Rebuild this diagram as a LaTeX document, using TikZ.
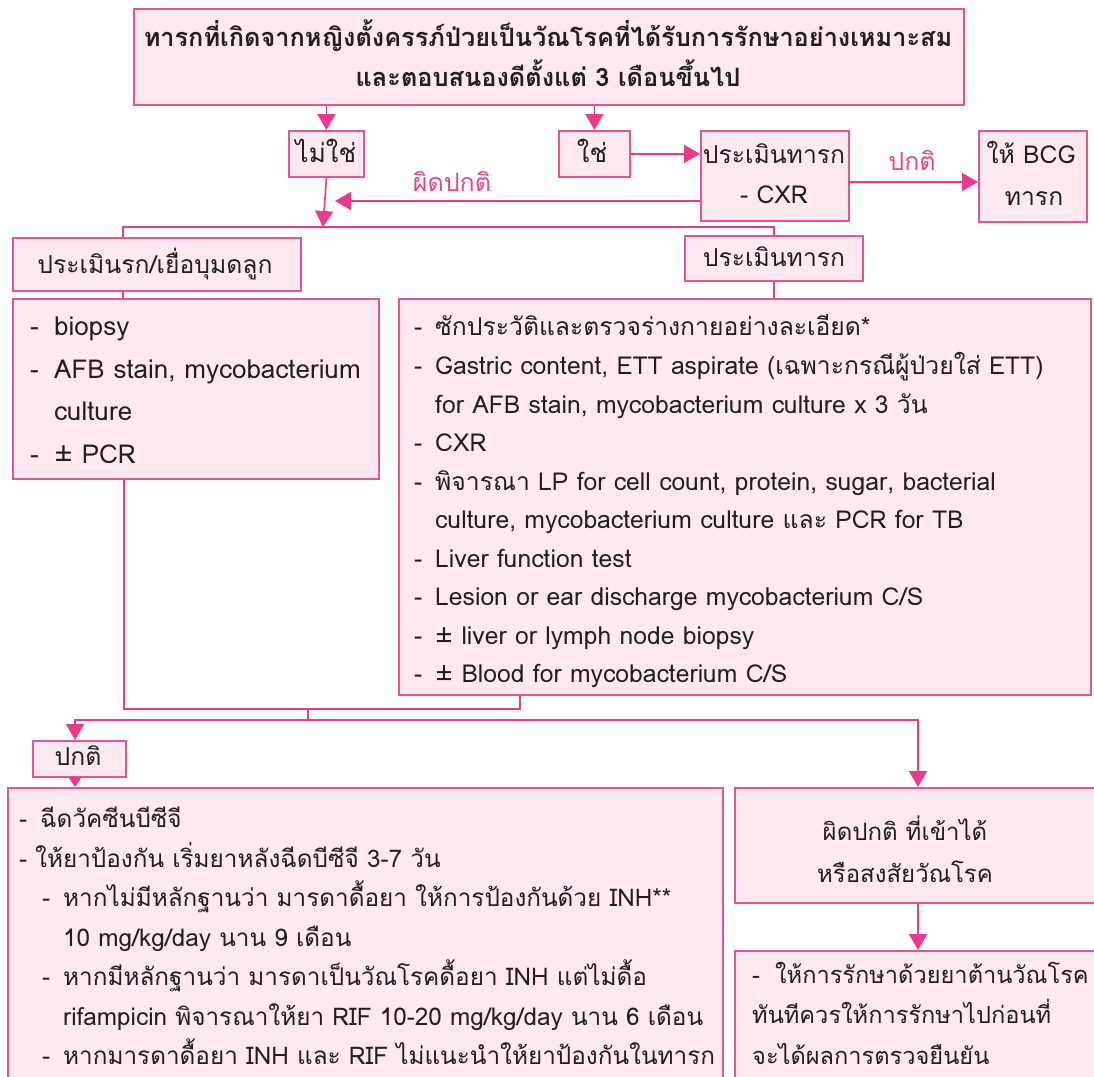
\documentclass[tikz,border=0pt]{standalone}
\usepackage{fontspec}
\setmainfont{Loma}[Script=Thai]
\usetikzlibrary{arrows.meta}
\definecolor{pinkline}{RGB}{234,82,150}
\definecolor{pinkarrow}{RGB}{236,58,138}
\definecolor{pinkfill}{RGB}{253,233,239}
\definecolor{pinktext}{RGB}{232,70,140}
\definecolor{txt}{RGB}{35,31,32}
\tikzset{
  box/.style={draw=pinkline, fill=pinkfill, line width=1.8pt, inner sep=0pt, anchor=north west},
  conn/.style={draw=pinkarrow, line width=1.6pt},
  arr/.style={conn, -{Triangle[width=18pt,length=16pt]}},
  sarr/.style={conn, -{Triangle[width=13pt,length=10pt]}},
  tx/.style={inner sep=0pt, text=txt, yshift=-4pt, font=\fontsize{24.7}{28}\selectfont},
  tl/.style={tx, anchor=mid west},
  tc/.style={tx, anchor=mid},
  lab/.style={inner sep=0pt, text=pinktext, yshift=-3pt, font=\fontsize{25}{28}\selectfont, anchor=mid},
  big/.style={font=\fontsize{26}{30}\selectfont},
  mid2/.style={font=\fontsize{24.3}{28}\selectfont},
  sm/.style={font=\fontsize{24}{28}\selectfont},
  rb/.style={font=\fontsize{23.6}{27}\selectfont},
}
\newcommand{\dsh}[1]{\makebox[#1][l]{-}}
\begin{document}
\begin{tikzpicture}[x=1pt,y=-1pt]
\useasboundingbox (0,0) rectangle (1094,1076);
\clip (0,0) rectangle (1094,1076);
% boxes
\node[box, minimum width=830, minimum height=96] (top) at (133,8) {};
\node[box, minimum width=75, minimum height=46] (no) at (288,130) {};
\node[box, minimum width=71, minimum height=46] (yes) at (558,130) {};
\node[box, minimum width=148, minimum height=90] (cxr) at (700,130) {};
\node[box, minimum width=108, minimum height=91] (bcg) at (978,130) {};
\node[box, minimum width=288, minimum height=53] (plac) at (12,237) {};
\node[box, minimum width=178, minimum height=45] (inf) at (684,235) {};
\node[box, minimum width=366, minimum height=180] (pdet) at (12,298) {};
\node[box, minimum width=692, minimum height=396] (idet) at (398,298) {};
\node[box, minimum width=93, minimum height=36] (norm) at (32,740) {};
\node[box, minimum width=715, minimum height=320] (ndet) at (7,787) {};
\node[box, minimum width=370, minimum height=115] (abn) at (734,787) {};
\node[box, minimum width=370, minimum height=140] (tre) at (734,950) {};
% coordinates
\coordinate (jA) at (323,227);
\coordinate (jL) at (123,227);
\coordinate (jR) at (774,227);
\coordinate (tipAbn) at (335,201);
\coordinate (bL) at (124,709);
\coordinate (bR) at (520,709);
\coordinate (bM) at (308,709);
\coordinate (cM) at (308,720);
\coordinate (cL) at (75,720);
\coordinate (cR) at (918,720);
\coordinate (cxrR) at (848,182);
% connectors
\draw[arr] (top.south -| no.north) -- (no.north);
\draw[arr] (top.south -| yes.north) -- (yes.north);
\draw[arr] (yes.east) -- (yes.east -| cxr.west);
\draw[arr] (cxrR) -- (cxrR -| bcg.west);
\draw[arr] (cxr.west |- tipAbn) -- (tipAbn);
\draw[arr] (no.south) -- (jA);
\draw[conn] (plac.north -| jL) -- (jL) -- (jR) -- (inf.north -| jR);
\draw[conn] (plac.south -| jL) -- (pdet.north -| jL);
\draw[conn] (inf.south -| jR) -- (idet.north -| jR);
\draw[conn] (pdet.south -| bL) -- (bL) -- (bR) -- (idet.south -| bR);
\draw[conn] (bM) -- (cM);
\draw[arr] (cM) -- (cL) -- (norm.north -| cL);
\draw[arr] (cM) -- (cR) -- (abn.north -| cR);
\draw[sarr] (norm.south -| cL) -- (ndet.north -| cL);
\draw[arr] (abn.south -| cR) -- (tre.north -| cR);
% labels
\node[lab] (lN) at (912,165) {ปกติ};
\node[lab] (lA) at (452,186) {ผิดปกติ};
% texts
\node[tc, font=\fontsize{25.3}{29}\selectfont\bfseries] (t1) at (548,40) {ทารกที่เกิดจากหญิงตั้งครรภ์ป่วยเป็นวัณโรคที่ได้รับการรักษาอย่างเหมาะสม};
\node[tc, font=\fontsize{25.3}{29}\selectfont\bfseries] (t2) at (548,80) {และตอบสนองดีตั้งแต่ 3 เดือนขึ้นไป};
\node[tc, big] (tno) at (326,156) {ไม่ใช่};
\node[tc, big] (tyes) at (592,156) {ใช่};
\node[tc] (tc1) at (774,157) {ประเมินทารก};
\node[tc] (tc2) at (774,197) {- CXR};
\node[tc] (tb1) at (1031,157) {ให้ BCG};
\node[tc] (tb2) at (1034,199) {ทารก};
\node[tc] (tpl) at (155,267) {ประเมินรก/เยื่อบุมดลูก};
\node[tc] (tin) at (774,260) {ประเมินทารก};
% placenta details
\node[tl, big] (p1) at (30,329) {\dsh{24pt}biopsy};
\node[tl, big] (p2) at (30,372) {\dsh{24pt}AFB stain, mycobacterium};
\node[tl, big] (p3) at (54,414) {culture};
\node[tl, big] (p4) at (30,457) {\dsh{24pt}± PCR};
% infant details
\node[tl] (i1) at (414,329) {\dsh{21pt}ซักประวัติและตรวจร่างกายอย่างละเอียด*};
\node[tl] (i2) at (414,368) {\dsh{21pt}Gastric content, ETT aspirate (เฉพาะกรณีผู้ป่วยใส่ ETT)};
\node[tl] (i3) at (435,407) {for AFB stain, mycobacterium culture x 3 วัน};
\node[tl] (i4) at (414,445) {\dsh{21pt}CXR};
\node[tl] (i5) at (414,484) {\dsh{21pt}พิจารณา LP for cell count, protein, sugar, bacterial};
\node[tl] (i6) at (435,522) {culture, mycobacterium culture และ PCR for TB};
\node[tl] (i7) at (414,561) {\dsh{21pt}Liver function test};
\node[tl] (i8) at (414,599) {\dsh{21pt}Lesion or ear discharge mycobacterium C/S};
\node[tl] (i9) at (414,638) {\dsh{21pt}± liver or lymph node biopsy};
\node[tl] (i10) at (414,676) {\dsh{21pt}± Blood for mycobacterium C/S};
% normal
\node[tc] (tnorm) at (78,759) {ปกติ};
\node[tl, mid2] (n1) at (19,821) {\dsh{21pt}ฉีดวัคซีนบีซีจี};
\node[tl, mid2] (n2) at (19,861) {\dsh{16pt}ให้ยาป้องกัน เริ่มยาหลังฉีดบีซีจี 3-7 วัน};
\node[tl, mid2] (n3) at (42,900) {\dsh{21pt}หากไม่มีหลักฐานว่า มารดาดื้อยา ให้การป้องกันด้วย INH**};
\node[tl, mid2] (n4) at (63,940) {10 mg/kg/day นาน 9 เดือน};
\node[tl, mid2] (n5) at (42,979) {\dsh{21pt}หากมีหลักฐานว่า มารดาเป็นวัณโรคดื้อยา INH แต่ไม่ดื้อ};
\node[tl, mid2] (n6) at (63,1019) {rifampicin พิจารณาให้ยา RIF 10-20 mg/kg/day นาน 6 เดือน};
\node[tl, mid2] (n7) at (42,1058) {\dsh{21pt}หากมารดาดื้อยา INH และ RIF ไม่แนะนำให้ยาป้องกันในทารก};
% abnormal
\node[tc, sm] (a1) at (905,834) {ผิดปกติ ที่เข้าได้};
\node[tc, sm] (a2) at (905,876) {หรือสงสัยวัณโรค};
\node[tl, rb] (r1) at (752,977) {\dsh{23pt}ให้การรักษาด้วยยาต้านวัณโรค};
\node[tl, rb] (r2) at (752,1017) {ทันทีควรให้การรักษาไปก่อนที่};
\node[tl, rb] (r3) at (752,1058) {จะได้ผลการตรวจยืนยัน};
\end{tikzpicture}
\end{document}
